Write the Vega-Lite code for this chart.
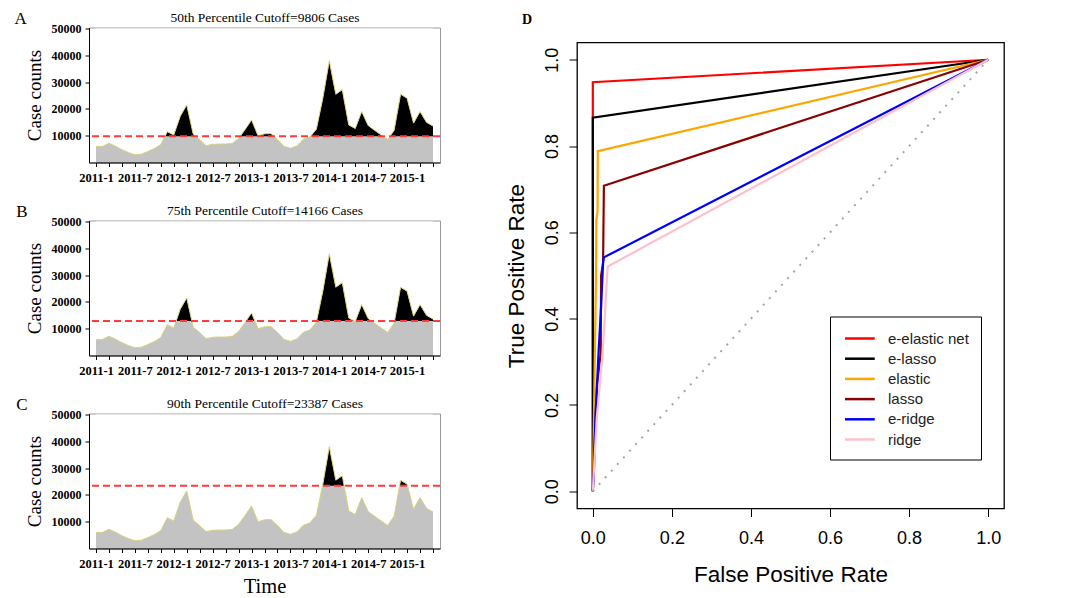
{
  "$schema": "https://vega.github.io/schema/vega-lite/v6.json",
  "padding": {"left": 13, "top": 8.5, "right": 0, "bottom": 0},
  "background": "white",
  "config": {
    "font": "Liberation Serif",
    "view": {"stroke": null},
    "axis": {"labelColor": "black", "titleColor": "black", "grid": false, "labelOverlap": false},
    "title": {"color": "black"}
  },
  "resolve": {"legend": {"color": "independent"}},
  "datasets": {
    "cases": [
      {"m": 0, "month": "2011-01", "cases": 6000},
      {"m": 1, "month": "2011-02", "cases": 6000},
      {"m": 2, "month": "2011-03", "cases": 7200},
      {"m": 3, "month": "2011-04", "cases": 6100},
      {"m": 4, "month": "2011-05", "cases": 4800},
      {"m": 5, "month": "2011-06", "cases": 3700},
      {"m": 6, "month": "2011-07", "cases": 2900},
      {"m": 7, "month": "2011-08", "cases": 3100},
      {"m": 8, "month": "2011-09", "cases": 4100},
      {"m": 9, "month": "2011-10", "cases": 5200},
      {"m": 10, "month": "2011-11", "cases": 6700},
      {"m": 11, "month": "2011-12", "cases": 11500},
      {"m": 12, "month": "2012-01", "cases": 10300},
      {"m": 13, "month": "2012-02", "cases": 17300},
      {"m": 14, "month": "2012-03", "cases": 21500},
      {"m": 15, "month": "2012-04", "cases": 10600},
      {"m": 16, "month": "2012-05", "cases": 8500},
      {"m": 17, "month": "2012-06", "cases": 6300},
      {"m": 18, "month": "2012-07", "cases": 6800},
      {"m": 19, "month": "2012-08", "cases": 6900},
      {"m": 20, "month": "2012-09", "cases": 6900},
      {"m": 21, "month": "2012-10", "cases": 7100},
      {"m": 22, "month": "2012-11", "cases": 9000},
      {"m": 23, "month": "2012-12", "cases": 12300},
      {"m": 24, "month": "2013-01", "cases": 15900},
      {"m": 25, "month": "2013-02", "cases": 10000},
      {"m": 26, "month": "2013-03", "cases": 10700},
      {"m": 27, "month": "2013-04", "cases": 10800},
      {"m": 28, "month": "2013-05", "cases": 8600},
      {"m": 29, "month": "2013-06", "cases": 6000},
      {"m": 30, "month": "2013-07", "cases": 5300},
      {"m": 31, "month": "2013-08", "cases": 6200},
      {"m": 32, "month": "2013-09", "cases": 8700},
      {"m": 33, "month": "2013-10", "cases": 9500},
      {"m": 34, "month": "2013-11", "cases": 12400},
      {"m": 35, "month": "2013-12", "cases": 24000},
      {"m": 36, "month": "2014-01", "cases": 38000},
      {"m": 37, "month": "2014-02", "cases": 25500},
      {"m": 38, "month": "2014-03", "cases": 27200},
      {"m": 39, "month": "2014-04", "cases": 14000},
      {"m": 40, "month": "2014-05", "cases": 12700},
      {"m": 41, "month": "2014-06", "cases": 19000},
      {"m": 42, "month": "2014-07", "cases": 13800},
      {"m": 43, "month": "2014-08", "cases": 12000},
      {"m": 44, "month": "2014-09", "cases": 10300},
      {"m": 45, "month": "2014-10", "cases": 8600},
      {"m": 46, "month": "2014-11", "cases": 12000},
      {"m": 47, "month": "2014-12", "cases": 25500},
      {"m": 48, "month": "2015-01", "cases": 24000},
      {"m": 49, "month": "2015-02", "cases": 14700},
      {"m": 50, "month": "2015-03", "cases": 19000},
      {"m": 51, "month": "2015-04", "cases": 15000},
      {"m": 52, "month": "2015-05", "cases": 13600}
    ],
    "roc": [
      {"model": "e-elastic net", "step": 0, "fpr": 0, "tpr": 0},
      {"model": "e-elastic net", "step": 1, "fpr": 0, "tpr": 0.948},
      {"model": "e-elastic net", "step": 2, "fpr": 1, "tpr": 1},
      {"model": "e-lasso", "step": 0, "fpr": 0, "tpr": 0},
      {"model": "e-lasso", "step": 1, "fpr": 0, "tpr": 0.866},
      {"model": "e-lasso", "step": 2, "fpr": 1, "tpr": 1},
      {"model": "elastic", "step": 0, "fpr": 0, "tpr": 0},
      {"model": "elastic", "step": 1, "fpr": 0.003, "tpr": 0.18},
      {"model": "elastic", "step": 2, "fpr": 0.005, "tpr": 0.31},
      {"model": "elastic", "step": 3, "fpr": 0.008, "tpr": 0.49},
      {"model": "elastic", "step": 4, "fpr": 0.009, "tpr": 0.63},
      {"model": "elastic", "step": 5, "fpr": 0.012, "tpr": 0.65},
      {"model": "elastic", "step": 6, "fpr": 0.0126, "tpr": 0.788},
      {"model": "elastic", "step": 7, "fpr": 1, "tpr": 1},
      {"model": "lasso", "step": 0, "fpr": 0, "tpr": 0},
      {"model": "lasso", "step": 1, "fpr": 0.004, "tpr": 0.1},
      {"model": "lasso", "step": 2, "fpr": 0.011, "tpr": 0.25},
      {"model": "lasso", "step": 3, "fpr": 0.02, "tpr": 0.32},
      {"model": "lasso", "step": 4, "fpr": 0.021, "tpr": 0.5},
      {"model": "lasso", "step": 5, "fpr": 0.026, "tpr": 0.53},
      {"model": "lasso", "step": 6, "fpr": 0.028, "tpr": 0.708},
      {"model": "lasso", "step": 7, "fpr": 1, "tpr": 1},
      {"model": "e-ridge", "step": 0, "fpr": 0, "tpr": 0},
      {"model": "e-ridge", "step": 1, "fpr": 0.003, "tpr": 0.05},
      {"model": "e-ridge", "step": 2, "fpr": 0.007, "tpr": 0.18},
      {"model": "e-ridge", "step": 3, "fpr": 0.015, "tpr": 0.33},
      {"model": "e-ridge", "step": 4, "fpr": 0.021, "tpr": 0.43},
      {"model": "e-ridge", "step": 5, "fpr": 0.026, "tpr": 0.53},
      {"model": "e-ridge", "step": 6, "fpr": 0.028, "tpr": 0.542},
      {"model": "e-ridge", "step": 7, "fpr": 1, "tpr": 1},
      {"model": "ridge", "step": 0, "fpr": 0, "tpr": 0},
      {"model": "ridge", "step": 1, "fpr": 0.01, "tpr": 0.17},
      {"model": "ridge", "step": 2, "fpr": 0.024, "tpr": 0.31},
      {"model": "ridge", "step": 3, "fpr": 0.032, "tpr": 0.43},
      {"model": "ridge", "step": 4, "fpr": 0.036, "tpr": 0.5},
      {"model": "ridge", "step": 5, "fpr": 0.038, "tpr": 0.521},
      {"model": "ridge", "step": 6, "fpr": 1, "tpr": 1}
    ]
  },
  "hconcat": [
    {
      "spacing": 17,
      "vconcat": [
        {
          "width": 351, "height": 135,
          "view": {"stroke": "#9a9a9a", "strokeWidth": 1},
          "title": {"text": "A", "orient": "left", "anchor": "end", "frame": "bounds", "angle": 0, "align": "right", "baseline": "top", "font": "Liberation Serif", "fontSize": 17, "fontWeight": "normal", "offset": -14},
          "data": {"name": "cases"},
          "resolve": {"axis": {"x": "independent"}},
          "layer": [
            {"mark": {"type": "area", "color": "black"},
             "encoding": {
               "x": {"field": "m", "type": "quantitative", "scale": {"domain": [-1.08, 53.08], "nice": false, "zero": false},
                     "axis": {"values": [0,2,4,6,8,10,12,14,16,18,20,22,24,26,28,30,32,34,36,38,40,42,44,46,48,50,52], "labelExpr": "datum.value % 6 == 0 ? (2011 + floor(datum.value / 12)) + '-' + (datum.value % 12 + 1) : ''", "labelOverlap": false, "labelFlush": false, "labelFont": "Liberation Serif", "labelFontSize": 12.5, "labelFontWeight": "bold", "labelPadding": 5, "tickColor": "black", "tickSize": 4, "domainColor": "black", "zindex": 1, "title": null}},
               "y": {"field": "cases", "type": "quantitative", "scale": {"domain": [0, 50400], "nice": false},
                     "axis": {"values": [10000,20000,30000,40000,50000], "format": "d", "labelOverlap": false, "labelFont": "Liberation Serif", "labelFontSize": 12, "labelFontWeight": "bold", "labelPadding": 4, "tickSize": 4, "tickColor": "black", "domainColor": "black", "zindex": 1, "title": "Case counts", "titleFont": "Liberation Serif", "titleFontSize": 19, "titleFontWeight": "normal", "titlePadding": 7}},
               "y2": {"datum": 0}
             }},
            {"mark": {"type": "area", "color": "#c3c3c3"},
             "encoding": {"x": {"field": "m", "type": "quantitative", "axis": null}, "y": {"datum": 9806, "type": "quantitative",
                     "axis": {"values": [10000,20000,30000,40000,50000], "format": "d", "labelOverlap": false, "labelFont": "Liberation Serif", "labelFontSize": 12, "labelFontWeight": "bold", "labelPadding": 4, "tickSize": 4, "tickColor": "black", "domainColor": "black", "zindex": 1, "title": "Case counts", "titleFont": "Liberation Serif", "titleFontSize": 19, "titleFontWeight": "normal", "titlePadding": 7}}, "y2": {"datum": 0}}},
            {"mark": {"type": "area", "color": "white"},
             "encoding": {
               "x": {"field": "m", "type": "quantitative", "axis": {"orient": "top", "domain": false, "ticks": false, "labels": false, "title": "50th Percentile Cutoff=9806 Cases", "titleFont": "Liberation Serif", "titleFontSize": 13.5, "titleFontWeight": "normal", "titlePadding": 3}},
               "y": {"field": "cases", "type": "quantitative",
                     "axis": {"values": [10000,20000,30000,40000,50000], "format": "d", "labelOverlap": false, "labelFont": "Liberation Serif", "labelFontSize": 12, "labelFontWeight": "bold", "labelPadding": 4, "tickSize": 4, "tickColor": "black", "domainColor": "black", "zindex": 1, "title": "Case counts", "titleFont": "Liberation Serif", "titleFontSize": 19, "titleFontWeight": "normal", "titlePadding": 7}}, "y2": {"datum": 50000}}},
            {"mark": {"type": "line", "color": "#d9d27c", "strokeWidth": 1},
             "encoding": {"x": {"field": "m", "type": "quantitative", "axis": null}, "y": {"field": "cases", "type": "quantitative",
                     "axis": {"values": [10000,20000,30000,40000,50000], "format": "d", "labelOverlap": false, "labelFont": "Liberation Serif", "labelFontSize": 12, "labelFontWeight": "bold", "labelPadding": 4, "tickSize": 4, "tickColor": "black", "domainColor": "black", "zindex": 1, "title": "Case counts", "titleFont": "Liberation Serif", "titleFontSize": 19, "titleFontWeight": "normal", "titlePadding": 7}}}},
            {"data": {"values": [{"cutoff": 9806}]},
             "mark": {"type": "rule", "color": "#ff3b3b", "strokeWidth": 2, "strokeDash": [7, 4]},
             "encoding": {"y": {"field": "cutoff", "type": "quantitative",
                     "axis": {"values": [10000,20000,30000,40000,50000], "format": "d", "labelOverlap": false, "labelFont": "Liberation Serif", "labelFontSize": 12, "labelFontWeight": "bold", "labelPadding": 4, "tickSize": 4, "tickColor": "black", "domainColor": "black", "zindex": 1, "title": "Case counts", "titleFont": "Liberation Serif", "titleFontSize": 19, "titleFontWeight": "normal", "titlePadding": 7}}}}
          ]
        },
        {
          "width": 351, "height": 135,
          "view": {"stroke": "#9a9a9a", "strokeWidth": 1},
          "title": {"text": "B", "orient": "left", "anchor": "end", "frame": "bounds", "angle": 0, "align": "right", "baseline": "top", "font": "Liberation Serif", "fontSize": 17, "fontWeight": "normal", "offset": -14},
          "data": {"name": "cases"},
          "resolve": {"axis": {"x": "independent"}},
          "layer": [
            {"mark": {"type": "area", "color": "black"},
             "encoding": {
               "x": {"field": "m", "type": "quantitative", "scale": {"domain": [-1.08, 53.08], "nice": false, "zero": false},
                     "axis": {"values": [0,2,4,6,8,10,12,14,16,18,20,22,24,26,28,30,32,34,36,38,40,42,44,46,48,50,52], "labelExpr": "datum.value % 6 == 0 ? (2011 + floor(datum.value / 12)) + '-' + (datum.value % 12 + 1) : ''", "labelOverlap": false, "labelFlush": false, "labelFont": "Liberation Serif", "labelFontSize": 12.5, "labelFontWeight": "bold", "labelPadding": 5, "tickColor": "black", "tickSize": 4, "domainColor": "black", "zindex": 1, "title": null}},
               "y": {"field": "cases", "type": "quantitative", "scale": {"domain": [0, 50400], "nice": false},
                     "axis": {"values": [10000,20000,30000,40000,50000], "format": "d", "labelOverlap": false, "labelFont": "Liberation Serif", "labelFontSize": 12, "labelFontWeight": "bold", "labelPadding": 4, "tickSize": 4, "tickColor": "black", "domainColor": "black", "zindex": 1, "title": "Case counts", "titleFont": "Liberation Serif", "titleFontSize": 19, "titleFontWeight": "normal", "titlePadding": 7}},
               "y2": {"datum": 0}
             }},
            {"mark": {"type": "area", "color": "#c3c3c3"},
             "encoding": {"x": {"field": "m", "type": "quantitative", "axis": null}, "y": {"datum": 12900, "type": "quantitative",
                     "axis": {"values": [10000,20000,30000,40000,50000], "format": "d", "labelOverlap": false, "labelFont": "Liberation Serif", "labelFontSize": 12, "labelFontWeight": "bold", "labelPadding": 4, "tickSize": 4, "tickColor": "black", "domainColor": "black", "zindex": 1, "title": "Case counts", "titleFont": "Liberation Serif", "titleFontSize": 19, "titleFontWeight": "normal", "titlePadding": 7}}, "y2": {"datum": 0}}},
            {"mark": {"type": "area", "color": "white"},
             "encoding": {
               "x": {"field": "m", "type": "quantitative", "axis": {"orient": "top", "domain": false, "ticks": false, "labels": false, "title": "75th Percentile Cutoff=14166 Cases", "titleFont": "Liberation Serif", "titleFontSize": 13.5, "titleFontWeight": "normal", "titlePadding": 3}},
               "y": {"field": "cases", "type": "quantitative",
                     "axis": {"values": [10000,20000,30000,40000,50000], "format": "d", "labelOverlap": false, "labelFont": "Liberation Serif", "labelFontSize": 12, "labelFontWeight": "bold", "labelPadding": 4, "tickSize": 4, "tickColor": "black", "domainColor": "black", "zindex": 1, "title": "Case counts", "titleFont": "Liberation Serif", "titleFontSize": 19, "titleFontWeight": "normal", "titlePadding": 7}}, "y2": {"datum": 50000}}},
            {"mark": {"type": "line", "color": "#d9d27c", "strokeWidth": 1},
             "encoding": {"x": {"field": "m", "type": "quantitative", "axis": null}, "y": {"field": "cases", "type": "quantitative",
                     "axis": {"values": [10000,20000,30000,40000,50000], "format": "d", "labelOverlap": false, "labelFont": "Liberation Serif", "labelFontSize": 12, "labelFontWeight": "bold", "labelPadding": 4, "tickSize": 4, "tickColor": "black", "domainColor": "black", "zindex": 1, "title": "Case counts", "titleFont": "Liberation Serif", "titleFontSize": 19, "titleFontWeight": "normal", "titlePadding": 7}}}},
            {"data": {"values": [{"cutoff": 12900}]},
             "mark": {"type": "rule", "color": "#ff3b3b", "strokeWidth": 2, "strokeDash": [7, 4]},
             "encoding": {"y": {"field": "cutoff", "type": "quantitative",
                     "axis": {"values": [10000,20000,30000,40000,50000], "format": "d", "labelOverlap": false, "labelFont": "Liberation Serif", "labelFontSize": 12, "labelFontWeight": "bold", "labelPadding": 4, "tickSize": 4, "tickColor": "black", "domainColor": "black", "zindex": 1, "title": "Case counts", "titleFont": "Liberation Serif", "titleFontSize": 19, "titleFontWeight": "normal", "titlePadding": 7}}}}
          ]
        },
        {
          "width": 351, "height": 135,
          "view": {"stroke": "#9a9a9a", "strokeWidth": 1},
          "title": {"text": "C", "orient": "left", "anchor": "end", "frame": "bounds", "angle": 0, "align": "right", "baseline": "top", "font": "Liberation Serif", "fontSize": 17, "fontWeight": "normal", "offset": -14},
          "data": {"name": "cases"},
          "resolve": {"axis": {"x": "independent"}},
          "layer": [
            {"mark": {"type": "area", "color": "black"},
             "encoding": {
               "x": {"field": "m", "type": "quantitative", "scale": {"domain": [-1.08, 53.08], "nice": false, "zero": false},
                     "axis": {"values": [0,2,4,6,8,10,12,14,16,18,20,22,24,26,28,30,32,34,36,38,40,42,44,46,48,50,52], "labelExpr": "datum.value % 6 == 0 ? (2011 + floor(datum.value / 12)) + '-' + (datum.value % 12 + 1) : ''", "labelOverlap": false, "labelFlush": false, "labelFont": "Liberation Serif", "labelFontSize": 12.5, "labelFontWeight": "bold", "labelPadding": 5, "tickColor": "black", "tickSize": 4, "domainColor": "black", "zindex": 1, "title": "Time", "titleFont": "Liberation Serif", "titleFontSize": 20.5, "titleFontWeight": "normal", "titlePadding": 6}},
               "y": {"field": "cases", "type": "quantitative", "scale": {"domain": [0, 50400], "nice": false},
                     "axis": {"values": [10000,20000,30000,40000,50000], "format": "d", "labelOverlap": false, "labelFont": "Liberation Serif", "labelFontSize": 12, "labelFontWeight": "bold", "labelPadding": 4, "tickSize": 4, "tickColor": "black", "domainColor": "black", "zindex": 1, "title": "Case counts", "titleFont": "Liberation Serif", "titleFontSize": 19, "titleFontWeight": "normal", "titlePadding": 7}},
               "y2": {"datum": 0}
             }},
            {"mark": {"type": "area", "color": "#c3c3c3"},
             "encoding": {"x": {"field": "m", "type": "quantitative", "axis": null}, "y": {"datum": 23387, "type": "quantitative",
                     "axis": {"values": [10000,20000,30000,40000,50000], "format": "d", "labelOverlap": false, "labelFont": "Liberation Serif", "labelFontSize": 12, "labelFontWeight": "bold", "labelPadding": 4, "tickSize": 4, "tickColor": "black", "domainColor": "black", "zindex": 1, "title": "Case counts", "titleFont": "Liberation Serif", "titleFontSize": 19, "titleFontWeight": "normal", "titlePadding": 7}}, "y2": {"datum": 0}}},
            {"mark": {"type": "area", "color": "white"},
             "encoding": {
               "x": {"field": "m", "type": "quantitative", "axis": {"orient": "top", "domain": false, "ticks": false, "labels": false, "title": "90th Percentile Cutoff=23387 Cases", "titleFont": "Liberation Serif", "titleFontSize": 13.5, "titleFontWeight": "normal", "titlePadding": 3}},
               "y": {"field": "cases", "type": "quantitative",
                     "axis": {"values": [10000,20000,30000,40000,50000], "format": "d", "labelOverlap": false, "labelFont": "Liberation Serif", "labelFontSize": 12, "labelFontWeight": "bold", "labelPadding": 4, "tickSize": 4, "tickColor": "black", "domainColor": "black", "zindex": 1, "title": "Case counts", "titleFont": "Liberation Serif", "titleFontSize": 19, "titleFontWeight": "normal", "titlePadding": 7}}, "y2": {"datum": 50000}}},
            {"mark": {"type": "line", "color": "#d9d27c", "strokeWidth": 1},
             "encoding": {"x": {"field": "m", "type": "quantitative", "axis": null}, "y": {"field": "cases", "type": "quantitative",
                     "axis": {"values": [10000,20000,30000,40000,50000], "format": "d", "labelOverlap": false, "labelFont": "Liberation Serif", "labelFontSize": 12, "labelFontWeight": "bold", "labelPadding": 4, "tickSize": 4, "tickColor": "black", "domainColor": "black", "zindex": 1, "title": "Case counts", "titleFont": "Liberation Serif", "titleFontSize": 19, "titleFontWeight": "normal", "titlePadding": 7}}}},
            {"data": {"values": [{"cutoff": 23387}]},
             "mark": {"type": "rule", "color": "#ff3b3b", "strokeWidth": 2, "strokeDash": [7, 4]},
             "encoding": {"y": {"field": "cutoff", "type": "quantitative",
                     "axis": {"values": [10000,20000,30000,40000,50000], "format": "d", "labelOverlap": false, "labelFont": "Liberation Serif", "labelFontSize": 12, "labelFontWeight": "bold", "labelPadding": 4, "tickSize": 4, "tickColor": "black", "domainColor": "black", "zindex": 1, "title": "Case counts", "titleFont": "Liberation Serif", "titleFontSize": 19, "titleFontWeight": "normal", "titlePadding": 7}}}}
          ]
        }
      ]
    },
    {
      "spacing": 13,
      "resolve": {"legend": {"color": "independent"}},
      "vconcat": [
        {
          "width": 427, "height": 1,
          "title": {"text": "D", "anchor": "start", "frame": "group", "font": "Liberation Serif", "fontSize": 14, "fontWeight": "bold", "dx": -55, "offset": 1},
          "data": {"values": []},
          "mark": "point",
          "encoding": {}
        },
        {
          "width": 427, "height": 466,
          "view": {"stroke": "black", "strokeWidth": 1.3},
          "layer": [
            {"data": {"name": "roc"},
             "mark": {"type": "line", "strokeWidth": 2.2},
             "encoding": {
               "x": {"field": "fpr", "type": "quantitative", "scale": {"domain": [-0.04, 1.04], "nice": false, "zero": false},
                     "axis": {"values": [0, 0.2, 0.4, 0.6, 0.8, 1], "format": ".1f", "domain": false, "tickColor": "black", "tickSize": 8, "labelFont": "Liberation Sans", "labelFontSize": 18, "labelPadding": 13, "labelFlush": false, "title": "False Positive Rate", "titleFont": "Liberation Sans", "titleFontSize": 22.5, "titleFontWeight": "normal", "titlePadding": 16}},
               "y": {"field": "tpr", "type": "quantitative", "scale": {"domain": [-0.04, 1.04], "nice": false, "zero": false},
                     "axis": {"values": [0, 0.2, 0.4, 0.6, 0.8, 1], "format": ".1f", "domain": false, "tickColor": "black", "tickSize": 8, "labelFont": "Liberation Sans", "labelFontSize": 18, "labelAngle": -90, "labelAlign": "center", "labelBaseline": "alphabetic", "labelPadding": 12, "labelFlush": false, "title": "True Positive Rate", "titleFont": "Liberation Sans", "titleFontSize": 22.5, "titleFontWeight": "normal", "titlePadding": 15}},
               "color": {"field": "model", "type": "nominal",
                         "scale": {"domain": ["e-elastic net", "e-lasso", "elastic", "lasso", "e-ridge", "ridge"], "range": ["#ff0000", "#000000", "#ffa500", "#8b0000", "#0000ff", "#ffc0cb"]},
                         "legend": {"orient": "none", "legendX": 253, "legendY": 274, "title": null, "strokeColor": "black", "fillColor": "white", "padding": 12, "symbolType": "M-0.8,0H2.6", "symbolSize": 306, "symbolStrokeWidth": 2.5, "labelFont": "Liberation Sans", "labelFontSize": 15, "labelColor": "#222222", "labelOffset": 26, "rowPadding": 2.2}},
               "order": {"field": "step", "type": "quantitative"}
             }},
            {"data": {"values": [{"x0": 0, "y0": 0, "x1": 1, "y1": 1}]},
             "mark": {"type": "rule", "color": "#a6a6a6", "strokeWidth": 2, "strokeDash": [2, 7]},
             "encoding": {"x": {"field": "x0", "type": "quantitative"}, "y": {"field": "y0", "type": "quantitative"}, "x2": {"field": "x1"}, "y2": {"field": "y1"}}}
          ]
        }
      ]
    }
  ],
  "spacing": 62
}
